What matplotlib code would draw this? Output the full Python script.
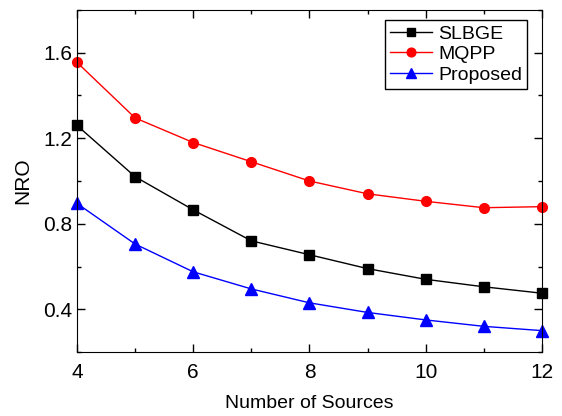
import matplotlib
matplotlib.use('Agg')
import matplotlib.pyplot as plt
from matplotlib.ticker import MultipleLocator

plt.rcParams['font.family'] = ['Liberation Sans', 'DejaVu Sans']

# Data
sources = [4, 5, 6, 7, 8, 9, 10, 11, 12]
slbge = [1.26, 1.02, 0.865, 0.72, 0.655, 0.59, 0.54, 0.505, 0.475]
mqpp = [1.555, 1.295, 1.18, 1.09, 1.0, 0.94, 0.905, 0.875, 0.88]
proposed = [0.895, 0.705, 0.575, 0.495, 0.43, 0.385, 0.35, 0.32, 0.30]

fig = plt.figure(figsize=(5.62, 4.16), dpi=100)
ax = fig.add_axes([77 / 562, 1 - 352 / 416, 465 / 562, 342 / 416])

ax.plot(sources, slbge, color='black', marker='s', markersize=7, linewidth=1, label='SLBGE', clip_on=False)
ax.plot(sources, mqpp, color='red', marker='o', markersize=7, linewidth=1, label='MQPP', clip_on=False)
ax.plot(sources, proposed, color='blue', marker='^', markersize=8, linewidth=1, label='Proposed', clip_on=False)

ax.set_xlim(4, 12)
ax.set_ylim(0.2, 1.8)
ax.xaxis.set_major_locator(MultipleLocator(2))
ax.xaxis.set_minor_locator(MultipleLocator(1))
ax.yaxis.set_minor_locator(MultipleLocator(0.2))
ax.set_yticks([0.4, 0.8, 1.2, 1.6])
ax.set_yticklabels(['0.4', '0.8', '1.2', '1.6'])
ax.tick_params(which='both', direction='in', top=True, right=True, labelsize=15, width=1)
ax.tick_params(which='major', length=6)
ax.tick_params(which='minor', length=3)
ax.tick_params(axis='x', pad=8)

ax.set_xlabel('Number of Sources', fontsize=14, labelpad=9)
ax.set_ylabel('NRO', fontsize=15, labelpad=8)

leg = ax.legend(loc='upper right', fontsize=14, fancybox=False, framealpha=1,
                edgecolor='black', handlelength=2.2, borderpad=0.25,
                labelspacing=0.15, handletextpad=0.3, borderaxespad=0,
                bbox_to_anchor=(0.968, 0.97), markerscale=0.9)
leg.get_frame().set_linewidth(1)

fig.savefig('out.png', dpi=100)
